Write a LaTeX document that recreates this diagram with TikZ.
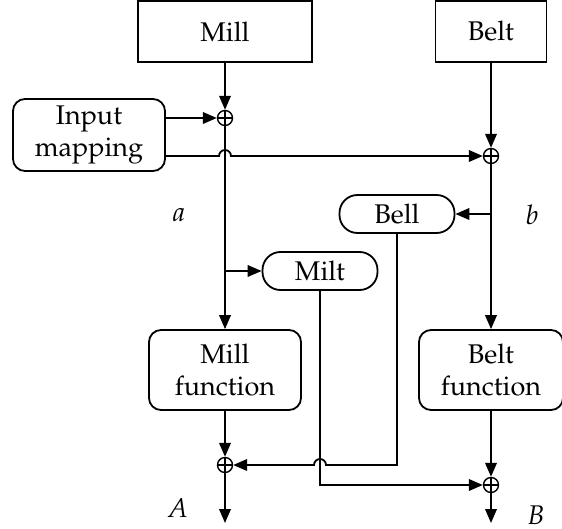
\documentclass[tikz,border=0pt]{standalone}
\usepackage[T1]{fontenc}
\usepackage{mathpazo}
\usetikzlibrary{arrows.meta,calc}
\begin{document}
\begin{tikzpicture}[x=0.5pt,y=-0.5pt,
  every node/.style={font=\fontsize{13.5}{16}\selectfont},
  line width=0.9pt,
  >={Triangle[length=7pt,width=5.8pt]},
  sqbox/.style={draw,rectangle,align=center,inner sep=0pt},
  rbox/.style={draw,rectangle,rounded corners=6pt,align=center,inner sep=0pt},
  sumnode/.style={draw,circle,minimum size=7.5pt,inner sep=0pt,line width=0.7pt,
    path picture={\draw[line width=0.6pt] (path picture bounding box.north) -- (path picture bounding box.south)
      (path picture bounding box.west) -- (path picture bounding box.east);}},
  lab/.style={font=\fontsize{13.5}{16}\selectfont\itshape}]
\useasboundingbox (0,0) rectangle (562,529);
\node[sqbox,minimum width=87pt,minimum height=30.5pt] (mill) at (225,31.5) {Mill};
\node[sqbox,minimum width=55.5pt,minimum height=30.5pt] (belt) at (491,31.5) {Belt};
\node[rbox,minimum width=76pt,minimum height=36pt] (imap) at (89,135) {Input\\mapping};
\node[rbox,rounded corners=9pt,minimum width=57.5pt,minimum height=19pt] (bell) at (397,214) {Bell};
\node[rbox,rounded corners=9pt,minimum width=57.5pt,minimum height=19pt] (milt) at (320,271) {Milt};
\node[rbox,minimum width=76pt,minimum height=40pt] (millf) at (225,370) {Mill\\function};
\node[rbox,minimum width=72pt,minimum height=40pt] (beltf) at (491,370) {Belt\\function};
\node[sumnode] (s1) at (225,118) {};
\node[sumnode] (s2) at (491,156) {};
\node[sumnode] (s3) at (225,465) {};
\node[sumnode] (s4) at (491,485) {};
\node[lab] (la) at (179,215) {a};
\node[lab] (lb) at (532,215) {b};
\node[lab] (lA) at (178,508) {A};
\node[lab] (lB) at (536,515) {B};
\coordinate (oA) at (225,523);
\coordinate (oB) at (491,523);
\coordinate (hop1) at (219,156);
\coordinate (hop2) at (314,465);
\coordinate (bellc) at (397,465);
\coordinate (miltc) at (320,485);
% mill chain
\draw[->] (mill.south) -- (s1.north);
\draw[->] (imap.east |- s1) -- (s1.west);
\draw[->] (s1.south) -- (millf.north);
\draw[->] (s1 |- milt) -- (milt.west);
\draw[->] (millf.south) -- (s3.north);
\draw[->] (s3.south) -- (oA);
% belt chain
\draw[->] (belt.south) -- (s2.north);
\draw[->] (imap.east |- s2) -- (hop1) arc[start angle=180,end angle=0,radius=3pt] -- (s2.west);
\draw[->] (s2 |- bell) -- (bell.east);
\draw[->] (s2.south) -- (beltf.north);
\draw[->] (beltf.south) -- (s4.north);
\draw[->] (s4.south) -- (oB);
% cross links
\draw[->] (bell.south) -- (bellc) -- ($(hop2)+(12,0)$) arc[start angle=0,end angle=180,radius=3pt] -- (s3.east);
\draw[->] (milt.south) -- (miltc) -- (s4.west);
\end{tikzpicture}
\end{document}
